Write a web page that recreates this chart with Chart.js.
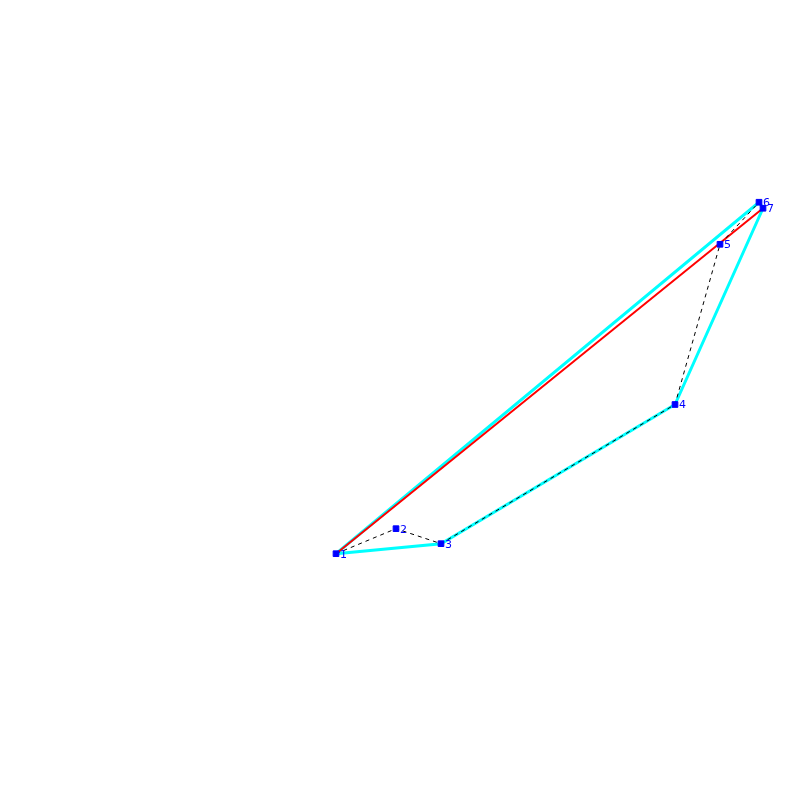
<!DOCTYPE html><html><head><script src="https://cdn.jsdelivr.net/npm/chart.js"></script>
<style>html,body{margin:0;padding:0;background:#fff}#w{width:800px;height:800px}</style></head><body><div id="w"><canvas id="c"></canvas></div>
<script>
const labels=["1","2","3","4","5","6","7"];
const xs=[335,395,440,674,719,758,762];
const ys=[553,528,543,404,244,202,208];
const hullOrder=[0,2,3,6,5,0];
const redOrder=[0,6];
const pts=xs.map((x,i)=>({x,y:ys[i]}));
const lbl={id:'lbl',afterDatasetsDraw(ch){const c=ch.ctx;c.save();c.fillStyle='#0000ff';c.font='11px DejaVu Sans';c.textBaseline='middle';
pts.forEach((p,i)=>{c.fillText(labels[i],ch.scales.x.getPixelForValue(p.x)+4,ch.scales.y.getPixelForValue(p.y)+1);});c.restore();}};
new Chart(document.getElementById('c'),{type:'scatter',data:{datasets:[
{data:pts,showLine:false,pointStyle:'rect',pointRadius:4,backgroundColor:'#0000ff',borderColor:'#0000ff',order:0},
{data:pts,showLine:true,borderColor:'#000',borderWidth:1,borderDash:[4,4],pointRadius:0,order:1},
{data:redOrder.map(i=>pts[i]),showLine:true,borderColor:'#ff0000',borderWidth:2,pointRadius:0,order:2},
{data:hullOrder.map(i=>pts[i]),showLine:true,borderColor:'#00ffff',borderWidth:3,pointRadius:0,order:3}
]},options:{responsive:true,maintainAspectRatio:false,animation:false,layout:{padding:0},
plugins:{legend:{display:false},tooltip:{enabled:false}},
scales:{x:{display:false,min:4,max:794},y:{display:false,min:5,max:794,reverse:true}}},plugins:[lbl]});
</script></body></html>
